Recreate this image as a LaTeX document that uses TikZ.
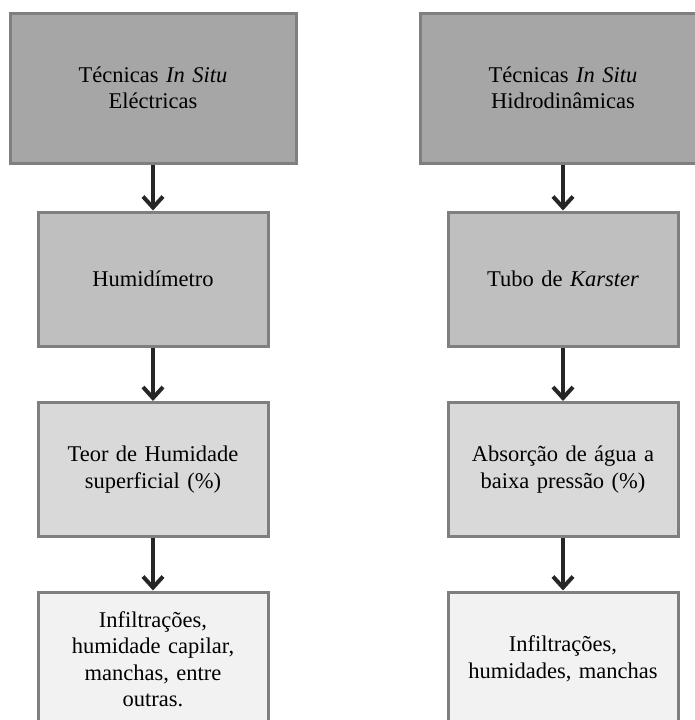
\documentclass[tikz,border=0pt]{standalone}
\usepackage{fontspec}
\setmainfont{Liberation Serif}
\usetikzlibrary{arrows.meta}
\definecolor{edge}{HTML}{7F7F7F}
\definecolor{fa}{HTML}{A6A6A6}
\definecolor{fb}{HTML}{BFBFBF}
\definecolor{fc}{HTML}{D9D9D9}
\definecolor{fd}{HTML}{F2F2F2}
\definecolor{arr}{HTML}{262626}
\begin{document}
\begin{tikzpicture}[x=1pt,y=-1pt,
  box/.style={draw=edge,line width=3pt,minimum width=230pt,minimum height=134pt,
    align=center,font=\fontsize{22.5}{26.5}\selectfont,inner sep=0pt,text width=222pt},
  topbox/.style={box,fill=fa,minimum width=286pt,minimum height=150pt},
  flow/.style={draw=arr,line width=4.5pt,-{Straight Barb[length=11pt,width=20pt,line width=4pt]}}]
\clip (0,0) rectangle (695,720);
\fill[white] (0,0) rectangle (695,720);
% left column
\node[topbox] (l1) at (153,88) {Técnicas \textit{In Situ}\\Eléctricas};
\node[box,fill=fb] (l2) at (153,279) {Humidímetro};
\node[box,fill=fc] (l3) at (153,469.5) {Teor de Humidade\\superficial (\%)};
\node[box,fill=fd] (l4) at (153,659) {Infiltrações,\\humidade capilar,\\manchas, entre\\outras.};
% right column
\node[topbox] (r1) at (563,88) {Técnicas \textit{In Situ}\\Hidrodinâmicas};
\node[box,fill=fb] (r2) at (563,279) {Tubo de \textit{Karster}};
\node[box,fill=fc] (r3) at (563,469.5) {Absorção de água a\\baixa pressão (\%)};
\node[box,fill=fd] (r4) at (563,659) {Infiltrações,\\humidades, manchas};
% arrows
\draw[flow] (l1.south) -- (l2.north);
\draw[flow] (l2.south) -- (l3.north);
\draw[flow] (l3.south) -- (l4.north);
\draw[flow] (r1.south) -- (r2.north);
\draw[flow] (r2.south) -- (r3.north);
\draw[flow] (r3.south) -- (r4.north);
\end{tikzpicture}
\end{document}
